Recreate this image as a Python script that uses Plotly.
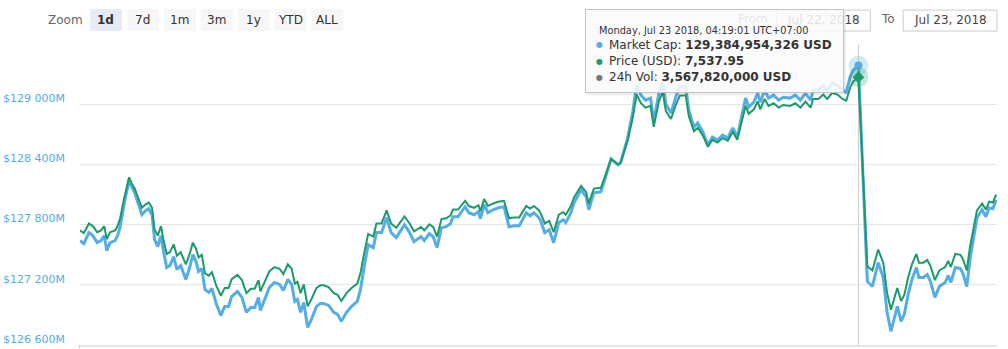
import pandas as pd
import plotly.graph_objects as go

# ---------------------------------------------------------------- data
START = pd.Timestamp("2018-07-22 07:58:00")

# sample times, minutes after START
minutes = [
    0, 6, 14, 20, 27, 33, 38, 42, 47, 55,
    59, 63, 69, 77, 81, 86, 91, 97, 103, 108,
    113, 117, 122, 127, 131, 136, 141, 147, 152, 158,
    166, 172, 177, 182, 186, 191, 196, 202, 207, 214,
    221, 227, 233, 238, 247, 254, 261, 268, 274, 280,
    283, 291, 297, 305, 313, 319, 326, 332, 337, 341,
    346, 351, 357, 363, 371, 377, 382, 390, 398, 404,
    410, 418, 426, 435, 440, 445, 452, 460, 465, 473,
    481, 488, 496, 509, 517, 524, 535, 540, 548, 554,
    560, 567, 574, 581, 585, 593, 604, 610, 618, 625,
    628, 634, 640, 648, 656, 665, 673, 681, 689, 700,
    706, 712, 720, 723, 729, 736, 743, 751, 758, 762,
    770, 775, 786, 794, 798, 806, 817, 825, 833, 844,
    848, 859, 867, 873, 880, 887, 895, 900, 908, 914,
    919, 927, 934, 941, 950, 955, 963, 969, 977, 985,
    992, 1000, 1008, 1016, 1024, 1031, 1039, 1044, 1049, 1057,
    1063, 1067, 1074, 1080, 1088, 1096, 1103, 1114, 1122, 1130,
    1138, 1146, 1150, 1158, 1166, 1172, 1180, 1188, 1196, 1202,
    1208, 1213, 1221.0167, 1227, 1235, 1243, 1252, 1260, 1266, 1272,
    1277, 1282, 1288, 1293, 1299, 1305, 1312, 1316, 1323, 1329,
    1334, 1341, 1348, 1357, 1362, 1366, 1373, 1381, 1385, 1391,
    1396, 1407, 1415, 1421, 1426, 1432, 1437,
]

# market capitalisation, millions of USD
market_cap_musd = [
    127640, 127610, 127720, 127690, 127620, 127640, 127690, 127541, 127620, 127640,
    127690, 127779, 127998, 128246, 128176, 128117, 128017, 127898, 127938, 127958,
    127898, 127650, 127580, 127690, 127531, 127372, 127392, 127481, 127352, 127392,
    127253, 127372, 127501, 127431, 127332, 127362, 127153, 127123, 127163, 127004,
    126895, 126984, 126984, 127084, 127133, 127074, 126925, 126974, 126974, 127074,
    126945, 127084, 127173, 127223, 127203, 127143, 127253, 127203, 127034, 127054,
    126925, 127024, 126776, 126855, 126984, 127014, 127014, 126994, 126925, 126905,
    126835, 126925, 126984, 127034, 127153, 127352, 127600, 127571, 127720, 127720,
    127868, 127720, 127670, 127799, 127720, 127630, 127680, 127640, 127709, 127680,
    127571, 127769, 127779, 127809, 127878, 127878, 127978, 127918, 127898, 127928,
    127859, 127998, 127918, 127948, 127968, 127978, 127779, 127789, 127789, 127918,
    127888, 127918, 127868, 127829, 127720, 127749, 127620, 127819, 127849, 127819,
    127918, 128017, 128147, 128077, 127948, 128117, 128127, 128286, 128455, 128395,
    128415, 128663, 128922, 129190, 129090, 129041, 129061, 128822, 129110, 129219,
    129001, 128912, 129061, 129180, 129180, 128941, 128772, 128812, 128723, 128594,
    128673, 128643, 128693, 128663, 128763, 128673, 128892, 129061, 128971, 129021,
    129110, 129021, 129140, 129061, 129090, 129041, 129070, 129061, 129090, 129041,
    129110, 129041, 129140, 129140, 129190, 129140, 129210, 129190, 129140, 129120,
    129269, 129339, 129384.954326, 128494, 127233, 127183, 127422, 127272, 126925, 126736,
    126855, 126984, 126835, 126905, 127104, 127253, 127372, 127272, 127272, 127302,
    127233, 127074, 127183, 127223, 127292, 127223, 127372, 127362, 127312, 127183,
    127451, 127868, 127948, 127878, 127968, 127958, 128047,
]

# price, USD
price_usd = [
    7436.12, 7434.38, 7440.75, 7439.01, 7434.96, 7436.12, 7439.01, 7430.33, 7434.96, 7436.12,
    7439.01, 7444.22, 7456.96, 7471.42, 7467.37, 7463.90, 7458.11, 7451.17, 7453.48, 7454.64,
    7451.17, 7436.70, 7432.65, 7439.01, 7429.75, 7420.49, 7421.65, 7426.86, 7419.34, 7421.65,
    7413.55, 7420.49, 7428.02, 7423.97, 7418.18, 7419.92, 7407.76, 7406.03, 7408.34, 7399.08,
    7392.71, 7397.92, 7397.92, 7403.71, 7406.61, 7403.13, 7394.45, 7397.34, 7397.34, 7403.13,
    7395.61, 7403.71, 7408.92, 7411.81, 7410.66, 7407.18, 7413.55, 7410.66, 7400.82, 7401.97,
    7394.45, 7400.24, 7385.77, 7390.40, 7397.92, 7399.66, 7399.66, 7398.50, 7394.45, 7393.29,
    7389.24, 7394.45, 7397.92, 7400.82, 7407.76, 7419.34, 7433.81, 7432.07, 7440.75, 7440.75,
    7449.43, 7440.75, 7437.86, 7445.38, 7440.75, 7435.54, 7438.44, 7436.12, 7440.17, 7438.44,
    7432.07, 7443.64, 7444.22, 7445.96, 7450.01, 7450.01, 7455.80, 7452.33, 7451.17, 7452.90,
    7448.85, 7456.96, 7452.33, 7454.06, 7455.22, 7455.80, 7444.22, 7444.80, 7444.80, 7452.33,
    7450.59, 7452.33, 7449.43, 7447.12, 7440.75, 7442.49, 7434.96, 7446.54, 7448.27, 7446.54,
    7452.33, 7458.11, 7465.64, 7461.59, 7454.06, 7463.90, 7464.48, 7473.74, 7483.58, 7480.11,
    7481.26, 7495.73, 7510.78, 7526.41, 7520.62, 7517.72, 7518.88, 7504.99, 7521.78, 7528.14,
    7515.41, 7510.20, 7518.88, 7525.83, 7525.83, 7511.94, 7502.10, 7504.41, 7499.20, 7491.68,
    7496.31, 7494.57, 7497.47, 7495.73, 7501.52, 7496.31, 7509.04, 7518.88, 7513.67, 7516.57,
    7521.78, 7516.57, 7523.51, 7518.88, 7520.62, 7517.72, 7519.46, 7518.88, 7520.62, 7517.72,
    7521.78, 7517.72, 7523.51, 7523.51, 7526.41, 7523.51, 7527.56, 7526.41, 7523.51, 7522.35,
    7531.04, 7535.09, 7537.95, 7485.89, 7412.39, 7409.50, 7423.39, 7414.71, 7394.45, 7383.45,
    7390.40, 7397.92, 7389.24, 7393.29, 7404.87, 7413.55, 7420.49, 7414.71, 7414.71, 7416.44,
    7412.39, 7403.13, 7409.50, 7411.81, 7415.86, 7411.81, 7420.49, 7419.92, 7417.02, 7409.50,
    7425.12, 7449.43, 7454.06, 7450.01, 7455.22, 7454.64, 7459.85,
]

assert len(minutes) == len(market_cap_musd) == len(price_usd)

HOVER = 182                      # sample shown in the tooltip
volume_24h_usd = 3567820000

mcap_ticks = [126600, 127200, 127800, 128400, 129000, 129600]
zoom_labels = ["1d", "7d", "1m", "3m", "1y", "YTD", "ALL"]
date_from, date_to = "Jul 22, 2018", "Jul 23, 2018"

# ---------------------------------------------------------------- styling
W, H = 1008, 349
L, R, T, B = 78, 11, 44, 3
FONT = "DejaVu Sans"
BLUE = "#55ade5"
GREEN = "#1b9a6a"
GREY_DOT = "#777777"
GRID = "#e6e6e6"

times = START + pd.to_timedelta(minutes, unit="min")
x_end = START + pd.Timedelta(minutes=1438.4)


def px(x):
    return (x - L) / (W - L - R)


def py(y):
    return (H - B - y) / (H - T - B)


fig = go.Figure()

fig.add_trace(go.Scatter(
    x=times, y=market_cap_musd, mode="lines", name="Market Cap",
    line=dict(color=BLUE, width=3), hoverinfo="skip"))
fig.add_trace(go.Scatter(
    x=times, y=price_usd, mode="lines", name="Price (USD)", yaxis="y2",
    line=dict(color=GREEN, width=2), hoverinfo="skip"))

# highlighted point of each series
th = times[HOVER]
fig.add_trace(go.Scatter(
    x=[th], y=[market_cap_musd[HOVER]], mode="markers", hoverinfo="skip",
    marker=dict(size=20, color=BLUE, opacity=0.25)))
fig.add_trace(go.Scatter(
    x=[th], y=[market_cap_musd[HOVER]], mode="markers", hoverinfo="skip",
    marker=dict(size=8, color=BLUE)))
fig.add_trace(go.Scatter(
    x=[th], y=[price_usd[HOVER]], mode="markers", yaxis="y2", hoverinfo="skip",
    marker=dict(size=20, color=GREEN, opacity=0.25)))
fig.add_trace(go.Scatter(
    x=[th], y=[price_usd[HOVER]], mode="markers", yaxis="y2", hoverinfo="skip",
    marker=dict(size=9, color=GREEN, symbol="diamond")))

shapes = []
annotations = []

# crosshair
shapes.append(dict(type="line", xref="x", yref="paper", x0=th, x1=th, y0=0, y1=1,
                   line=dict(color="#cccccc", width=1), layer="below"))
# small tick under the axis start
shapes.append(dict(type="line", xref="paper", yref="paper", x0=px(77.5), x1=px(77.5),
                   y0=py(346), y1=py(349), line=dict(color="#cccccc", width=1)))

# range selector
annotations.append(dict(xref="paper", yref="paper", x=px(83), y=py(20),
                        xanchor="right", yanchor="middle", showarrow=False,
                        text="Zoom", font=dict(family=FONT, size=12, color="#666666")))
for i, lab in enumerate(zoom_labels):
    x0 = 88 + 37 * i
    selected = i == 0
    shapes.append(dict(type="rect", xref="paper", yref="paper",
                       x0=px(x0), x1=px(x0 + 32), y0=py(31), y1=py(9),
                       fillcolor="#e6ebf5" if selected else "#f7f7f7",
                       line=dict(width=0)))
    annotations.append(dict(xref="paper", yref="paper", x=px(x0 + 16), y=py(20),
                            xanchor="center", yanchor="middle", showarrow=False,
                            text=f"<b>{lab}</b>" if selected else lab,
                            font=dict(family=FONT, size=12, color="#333333")))

# date inputs
for x0, x1, txt in [(776, 870, date_from), (903, 997, date_to)]:
    shapes.append(dict(type="rect", xref="paper", yref="paper",
                       x0=px(x0), x1=px(x1), y0=py(31), y1=py(10),
                       fillcolor="white", line=dict(color="#cccccc", width=1)))
    annotations.append(dict(xref="paper", yref="paper", x=px((x0 + x1) / 2), y=py(19.5),
                            xanchor="center", yanchor="middle", showarrow=False, text=txt,
                            font=dict(family=FONT, size=12, color="#444444")))
for xc, txt in [(752, "From"), (888, "To")]:
    annotations.append(dict(xref="paper", yref="paper", x=px(xc), y=py(19),
                            xanchor="center", yanchor="middle", showarrow=False, text=txt,
                            font=dict(family=FONT, size=12, color="#666666")))

# tooltip
TX0, TY0, TX1, TY1 = 584, 9, 843, 93
shapes.append(dict(type="line", xref="paper", yref="paper", x0=px(TX1 + 1.5), x1=px(TX1 + 1.5),
                   y0=py(TY0 + 2), y1=py(TY1 + 2), line=dict(color="rgba(0,0,0,0.08)", width=2)))
shapes.append(dict(type="line", xref="paper", yref="paper", x0=px(TX0 + 2), x1=px(TX1 + 2),
                   y0=py(TY1 + 1.5), y1=py(TY1 + 1.5), line=dict(color="rgba(0,0,0,0.08)", width=2)))
annotations.append(dict(xref="paper", yref="paper", x=px(TX0), y=py(TY0),
                        xanchor="left", yanchor="top", showarrow=False, text=" ",
                        width=TX1 - TX0 - 2, height=TY1 - TY0 - 2,
                        bgcolor="rgba(250,250,250,0.86)", bordercolor="#c4c4c4",
                        borderwidth=1, borderpad=0))

hover_ts = pd.Timestamp(th).round("s")
header = hover_ts.strftime("%A, %b %d %Y, %H:%M:%S") + " UTC+07:00"
annotations.append(dict(xref="paper", yref="paper", x=px(596), y=py(30.5),
                        xanchor="left", yanchor="middle", showarrow=False, text=header,
                        font=dict(family=FONT, size=9.8, color="#333333")))
rows = [
    (BLUE, "Market Cap: ", f"{market_cap_musd[HOVER] * 1e6:,.0f} USD"),
    (GREEN, "Price (USD): ", f"{price_usd[HOVER]:,.2f}"),
    (GREY_DOT, "24h Vol: ", f"{volume_24h_usd:,.0f} USD"),
]
for k, (col, name, val) in enumerate(rows):
    yc = 45 + 16.3 * k
    annotations.append(dict(xref="paper", yref="paper", x=px(598.5), y=py(yc),
                            xanchor="center", yanchor="middle", showarrow=False, text="●",
                            font=dict(family=FONT, size=8, color=col)))
    annotations.append(dict(xref="paper", yref="paper", x=px(606), y=py(yc),
                            xanchor="left", yanchor="middle", showarrow=False,
                            text=f"{name}<b>{val}</b>",
                            font=dict(family=FONT, size=12, color="#333333")))

EPS = 0.5
fig.update_layout(
    width=W, height=H,
    margin=dict(l=L, r=R, t=T, b=B, pad=0),
    paper_bgcolor="white", plot_bgcolor="white",
    showlegend=False, hovermode=False,
    xaxis=dict(type="date", range=[START, x_end], showgrid=False, zeroline=False,
               showticklabels=False, ticks="", showline=True, linecolor=GRID, linewidth=2),
    yaxis=dict(range=[mcap_ticks[0] - EPS, mcap_ticks[-1] + EPS], tickvals=mcap_ticks,
               ticktext=[f"${v:,.0f}M".replace(",", " ") if v < mcap_ticks[-1] else ""
                         for v in mcap_ticks],
               showgrid=True, gridcolor=GRID, gridwidth=1, zeroline=False, showline=False,
               ticks="", ticklabelstandoff=14, ticklabelshift=-6,
               tickfont=dict(family=FONT, size=11, color=BLUE)),
    yaxis2=dict(range=[7360, 7560], overlaying="y", visible=False),
    shapes=shapes, annotations=annotations,
)

fig.write_html("out.html", config={"displayModeBar": False})
